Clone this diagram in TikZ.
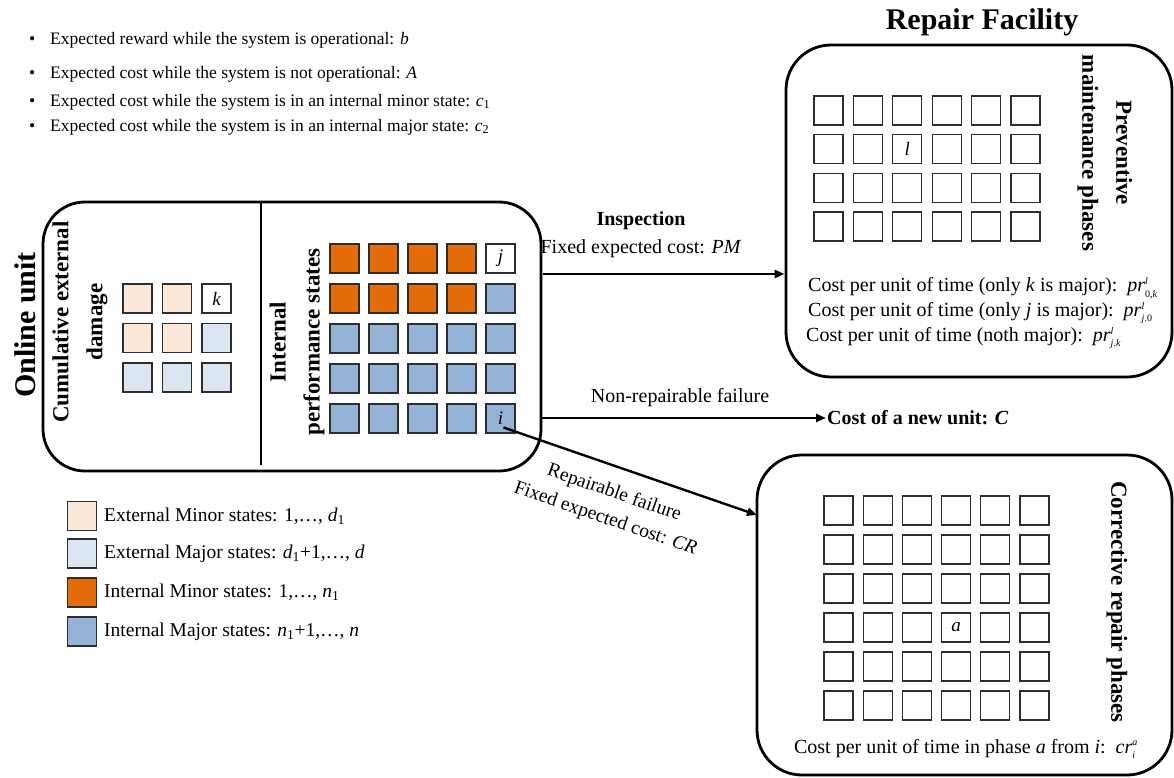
\documentclass[tikz,border=0pt]{standalone}
\usepackage{amsmath}
\usepackage{fontspec}
\setmainfont{Liberation Serif}
\usetikzlibrary{arrows.meta,calc}
\definecolor{extminor}{RGB}{253,233,217}
\definecolor{extmajor}{RGB}{220,230,242}
\definecolor{intminor}{RGB}{228,108,10}
\definecolor{intmajor}{RGB}{149,179,215}
\definecolor{sqborder}{RGB}{45,45,45}
\newcommand{\ssi}[1]{{\scriptscriptstyle #1}}
\tikzset{
  sq/.style={draw=sqborder, line width=1.3pt, minimum width=29pt, minimum height=29pt, inner sep=0pt, font=\fontsize{19}{22}\selectfont\itshape},
  bigbox/.style={draw, line width=2.8pt, rounded corners=42pt},
  arr/.style={line width=2.4pt, -{Triangle[length=10pt,width=8pt]}},
  lbl/.style={font=\fontsize{20}{24}\selectfont, inner sep=1pt},
  bul/.style={font=\fontsize{17.5}{20}\selectfont, anchor=west, inner sep=0pt},
  leg/.style={font=\fontsize{19.5}{22}\selectfont, anchor=west, inner sep=0pt},
  ttl/.style={font=\fontsize{30}{34}\selectfont\bfseries},
  rot/.style={font=\fontsize{23}{34}\selectfont\bfseries, align=center, inner sep=0pt}
}
\begin{document}
\begin{tikzpicture}[x=1pt,y=-1pt]
\useasboundingbox (0,0) rectangle (1174,778);

% bullets
\node[bul] (b1) at (29,40) {\makebox[21pt][l]{\textbullet}Expected reward while the system is operational: \textit{b}};
\node[bul] (b2) at (29,74) {\makebox[21pt][l]{\textbullet}Expected cost while the system is not operational: \textit{A}};
\node[bul] (b3) at (29,102) {\makebox[21pt][l]{\textbullet}Expected cost while the system is in an internal minor state: \textit{c}\textsubscript{1}};
\node[bul] (b4) at (29,127) {\makebox[21pt][l]{\textbullet}Expected cost while the system is in an internal major state: \textit{c}\textsubscript{2}};

% boxes
\node[bigbox, minimum width=498pt, minimum height=269pt] (online) at (292,336.5) {};
\node[bigbox, rounded corners=45pt, minimum width=386pt, minimum height=332pt] (prev) at (979,211) {};
\node[bigbox, rounded corners=45pt, minimum width=415pt, minimum height=320pt] (corr) at (964.5,615) {};
\draw[line width=2.8pt] (261,202) -- (261,465);

% titles
\node[ttl, rotate=90] (onl) at (25,325) {Online unit};
\node[ttl] (rf) at (982,22) {Repair Facility};
\node[rot, rotate=90] (cum) at (80,322) {Cumulative external\\damage};
\node[rot, rotate=90] (intl) at (297,342) {Internal\\performance states};
\node[rot, rotate=-90] (prevl) at (1105,153) {Preventive\\maintenance phases};
\node[rot, rotate=-90] (corrl) at (1117,602) {Corrective repair phases};

% external grid
\node[sq, fill=extminor] (ex-0-0) at (137.5,298.5) {};
\node[sq, fill=extminor] (ex-0-1) at (177,298.5) {};
\node[sq, fill=white] (ex-0-2) at (216.5,298.5) {k};
\node[sq, fill=extminor] (ex-1-0) at (137.5,338) {};
\node[sq, fill=extminor] (ex-1-1) at (177,338) {};
\node[sq, fill=extmajor] (ex-1-2) at (216.5,338) {};
\node[sq, fill=extmajor] (ex-2-0) at (137.5,377.5) {};
\node[sq, fill=extmajor] (ex-2-1) at (177,377.5) {};
\node[sq, fill=extmajor] (ex-2-2) at (216.5,377.5) {};

% internal grid
\foreach \r in {0,...,4}{\foreach \c in {0,...,4}{
  \def\fc{intmajor}\def\tx{}
  \ifnum\r<2 \ifnum\c<4 \def\fc{intminor}\fi\fi
  \ifnum\r=0 \ifnum\c=4 \def\fc{white}\def\tx{j}\fi\fi
  \ifnum\r=4 \ifnum\c=4 \def\tx{i}\fi\fi
  \node[sq, fill=\fc] (in-\r-\c) at ({344.5+39*\c},{258.5+40*\r}) {\tx};
}}

% preventive grid
\foreach \r in {0,...,3}{\foreach \c in {0,...,5}{
  \def\tx{}
  \ifnum\r=1 \ifnum\c=2 \def\tx{l}\fi\fi
  \node[sq] (pm-\r-\c) at ({828.5+39.4*\c},{110.5+38.7*\r}) {\tx};
}}

% corrective grid
\foreach \r in {0,...,5}{\foreach \c in {0,...,5}{
  \def\tx{}
  \ifnum\r=3 \ifnum\c=3 \def\tx{a}\fi\fi
  \node[sq] (cr-\r-\c) at ({838.5+39.2*\c},{510.5+39*\r}) {\tx};
}}

% preventive costs
\node[lbl, anchor=west] (pc1) at (807,288) {Cost per unit of time (only \textit{k} is major):\ \ $\textit{pr}^{\ssi{\textit{l}}}_{\ssi{\textup{0,}\textit{k}}}$};
\node[lbl, anchor=west] (pc2) at (807,313) {Cost per unit of time (only \textit{j} is major):\ \ $\textit{pr}^{\ssi{\textit{l}}}_{\ssi{\textit{j},\textup{0}}}$};
\node[lbl, anchor=west] (pc3) at (805,338) {Cost per unit of time (noth major):\ \ $\textit{pr}^{\ssi{\textit{l}}}_{\ssi{\textit{j},\textit{k}}}$};

% corrective cost
\node[lbl] (cc) at (966,749) {Cost per unit of time in phase \textit{a} from \textit{i}:\ \ $\textit{cr}^{\ssi{\textit{a}}}_{\ssi{\textit{i}}}$};

% inspection
\coordinate (inspS) at (543,274);
\draw[arr] (inspS) -- (inspS -| prev.west);
\node[lbl, font=\fontsize{20}{24}\selectfont\bfseries] (insp) at (641,221) {Inspection};
\node[lbl] (fixpm) at (641,249) {Fixed expected cost: \textit{PM}};

% non-repairable
\node[lbl, font=\fontsize{20}{24}\selectfont\bfseries, anchor=west] (newunit) at (826,418) {Cost of a new unit: \textit{C}};
\draw[arr] (newunit.west -| online.east) -- (newunit.west);
\node[lbl] (nrf) at (680,398) {Non-repairable failure};

% repairable
\coordinate (repE) at (757,515);
\draw[arr] ($(in-4-4.center)+(3,9)$) -- node[pos=0.47, sloped, below=15pt, lbl, align=center, font=\fontsize{19.5}{27}\selectfont] (rfl) {Repairable failure\\Fixed expected cost: \textit{CR}} (repE);

% legend
\node[sq, fill=extminor] (lg1) at (82,516) {};
\node[sq, fill=extmajor] (lg2) at (82,553.5) {};
\node[sq, fill=intminor] (lg3) at (82,592.5) {};
\node[sq, fill=intmajor] (lg4) at (82,631.5) {};
\node[leg] (lt1) at (104,516) {External Minor states: 1,…, \textit{d}\textsubscript{1}};
\node[leg] (lt2) at (104,553.5) {External Major states: \textit{d}\textsubscript{1}+1,…, \textit{d}};
\node[leg] (lt3) at (104,592.5) {Internal Minor states: 1,…, \textit{n}\textsubscript{1}};
\node[leg] (lt4) at (104,631.5) {Internal Major states: \textit{n}\textsubscript{1}+1,…, \textit{n}};
\end{tikzpicture}
\end{document}
